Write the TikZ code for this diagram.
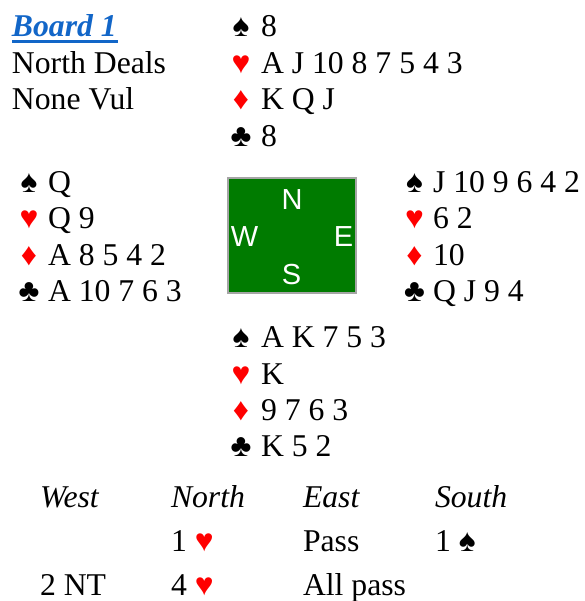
\documentclass[tikz,border=0pt]{standalone}
\usepackage{fontspec}
\setmainfont{Liberation Serif}
\newfontfamily\compassfont{Liberation Sans}
\definecolor{felt}{RGB}{0,123,0}
\definecolor{feltedge}{RGB}{165,165,165}
\definecolor{titleblue}{RGB}{18,102,200}
\definecolor{suitred}{RGB}{255,0,0}

\tikzset{
  every node/.style={inner sep=0pt, outer sep=0pt},
  txt/.style={anchor=base west, font=\fontsize{31.7}{36}\selectfont},
  itxt/.style={txt, font=\fontsize{31.7}{36}\selectfont\itshape},
  blacksuit/.style={anchor=base, font=\fontsize{31.7}{36}\selectfont},
  redsuit/.style={blacksuit, text=suitred},
  compass/.style={anchor=base, text=white, font=\compassfont\fontsize{29}{30}\selectfont},
}
\newcommand{\hv}{{\color{suitred}♥}}

\begin{document}
\begin{tikzpicture}[x=1pt, y=-1pt]
\useasboundingbox (0,0) rectangle (584,601);

% title block
\node[txt, text=titleblue, font=\fontsize{31.7}{36}\selectfont\bfseries\itshape] (title) at (12,37) {Board 1};
\fill[titleblue] (12,40.5) rectangle (118,43.3);
\node[txt] (dealer) at (12,74) {North Deals};
\node[txt] (vul) at (12,110) {None Vul};

% north hand
\node[blacksuit] (ns) at (241,37) {♠};    \node[txt] (nsc) at (261,37) {8};
\node[redsuit]   (nh) at (241,73.5) {♥};  \node[txt] (nhc) at (261,73.5) {A J 10 8 7 5 4 3};
\node[redsuit]   (nd) at (241,110) {♦};   \node[txt] (ndc) at (261,110) {K Q J};
\node[blacksuit] (nc) at (241,146.5) {♣}; \node[txt] (ncc) at (261,146.5) {8};

% west hand
\node[blacksuit] (ws) at (29,192.5) {♠};  \node[txt] (wsc) at (48,192.5) {Q};
\node[redsuit]   (wh) at (29,229) {♥};    \node[txt] (whc) at (48,229) {Q 9};
\node[redsuit]   (wd) at (29,265) {♦};    \node[txt] (wdc) at (48,265) {A 8 5 4 2};
\node[blacksuit] (wc) at (29,301.5) {♣};  \node[txt] (wcc) at (48,301.5) {A 10 7 6 3};

% east hand
\node[blacksuit] (es) at (414.5,192.5) {♠}; \node[txt] (esc) at (433,192.5) {J 10 9 6 4 2};
\node[redsuit]   (eh) at (414.5,229) {♥};   \node[txt] (ehc) at (433,229) {6 2};
\node[redsuit]   (ed) at (414.5,265) {♦};   \node[txt] (edc) at (433,265) {10};
\node[blacksuit] (ec) at (414.5,301.5) {♣}; \node[txt] (ecc) at (433,301.5) {Q J 9 4};

% south hand
\node[blacksuit] (ss) at (241,347.5) {♠}; \node[txt] (ssc) at (261,347.5) {A K 7 5 3};
\node[redsuit]   (sh) at (241,384) {♥};   \node[txt] (shc) at (261,384) {K};
\node[redsuit]   (sd) at (241,420) {♦};   \node[txt] (sdc) at (261,420) {9 7 6 3};
\node[blacksuit] (sc) at (241,456.5) {♣}; \node[txt] (scc) at (261,456.5) {K 5 2};

% table
\draw[fill=felt, draw=feltedge, line width=2pt] (228,178) rectangle (355.5,293);
\node[compass] (cn) at (292,210) {N};
\node[compass] (cw) at (244.5,247) {W};
\node[compass] (ce) at (343.5,247) {E};
\node[compass] (cs) at (291.5,284.5) {S};

% bidding
\node[itxt] (bw) at (40,507) {West};
\node[itxt] (bn) at (171,507) {North};
\node[itxt] (be) at (303,507) {East};
\node[itxt] (bs) at (435,507) {South};
\node[txt] (b1) at (171,551.5) {1 \hv};
\node[txt] (b2) at (303,551.5) {Pass};
\node[txt] (b3) at (435,551.5) {1 ♠};
\node[txt] (b4) at (40,595.5) {2 NT};
\node[txt] (b5) at (171,595.5) {4 \hv};
\node[txt] (b6) at (303,595.5) {All pass};
\end{tikzpicture}
\end{document}
